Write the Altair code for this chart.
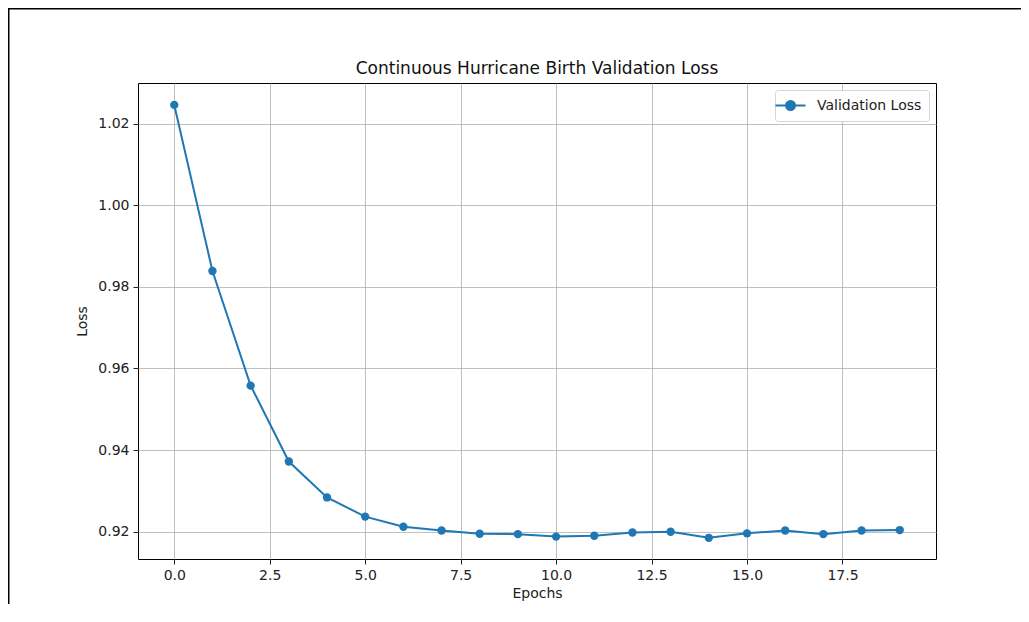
import altair as alt
import pandas as pd

epochs = list(range(20))
val_loss = [1.0246, 0.9839, 0.9558, 0.9372, 0.9284, 0.9237, 0.9212, 0.9203,
            0.9195, 0.9194, 0.9188, 0.9190, 0.9198, 0.9200, 0.9185, 0.9196,
            0.9203, 0.9194, 0.9203, 0.9204]
series = ["Validation Loss"] * len(epochs)
x_ticks = [0, 2.5, 5, 7.5, 10, 12.5, 15, 17.5]
y_ticks = [0.92, 0.94, 0.96, 0.98, 1.00, 1.02]

df = pd.DataFrame({"Epochs": epochs, "Loss": val_loss, "series": series})

FONT = "DejaVu Sans"
BLUE = "#1f77b4"

legend_path = ("M-2,0H2M-0.6,0a0.6,0.6 0 1,0 1.2,0a0.6,0.6 0 1,0 -1.2,0Z")

line = alt.Chart(df).mark_line(
    strokeWidth=2,
    point=alt.OverlayMarkDef(size=70, filled=True, opacity=1, color=BLUE),
).encode(
    x=alt.X("Epochs:Q", scale=alt.Scale(domain=[-0.95, 19.95], nice=False, zero=False),
            axis=alt.Axis(values=x_ticks, format=".1f", title="Epochs")),
    y=alt.Y("Loss:Q", scale=alt.Scale(domain=[0.91331, 1.02997], nice=False, zero=False),
            axis=alt.Axis(values=y_ticks, format=".2f", title="Loss")),
    color=alt.Color("series:N", scale=alt.Scale(range=[BLUE]),
                    legend=alt.Legend(title=None, orient="top-right", offset=7,
                                      symbolType=legend_path, symbolSize=225,
                                      symbolStrokeWidth=2, symbolFillColor=BLUE,
                                      labelFontSize=14, labelFont=FONT, labelColor="#222",
                                      strokeColor="#d5d5d5", fillColor="white",
                                      cornerRadius=3, padding=7, labelOffset=18)),
)

frame_data = alt.Data(values=[{"k": 1}])
frame_left = alt.Chart(frame_data).mark_rule(color="black", strokeWidth=3).encode(
    x=alt.value(-130), y=alt.value(-75), y2=alt.value(560))
frame_top = alt.Chart(frame_data).mark_rule(color="black", strokeWidth=3).encode(
    x=alt.value(-130), x2=alt.value(900), y=alt.value(-75))

chart = alt.layer(line, frame_left, frame_top).properties(
    width=798, height=476,
    title=alt.TitleParams("Continuous Hurricane Birth Validation Loss",
                          font=FONT, fontSize=17, fontWeight="normal",
                          color="#111", offset=8, dy=79),
    autosize=alt.AutoSizeParams(type="none"),
    padding={"left": 130, "top": 75, "right": 85, "bottom": 45},
).configure_view(
    stroke="black", strokeWidth=1
).configure_axis(
    labelFont=FONT, labelFontSize=14, labelColor="#222",
    titleFont=FONT, titleFontSize=14, titleColor="#222", titleFontWeight="normal",
    domain=False, tickColor="#222", tickSize=5, tickWidth=1, labelPadding=4,
    grid=True, gridColor="#b0b0b0", gridWidth=0.8,
).configure_axisY(titlePadding=8).configure_axisX(titlePadding=4)

chart.save("out.html", embed_options={"renderer": "svg", "actions": False})
